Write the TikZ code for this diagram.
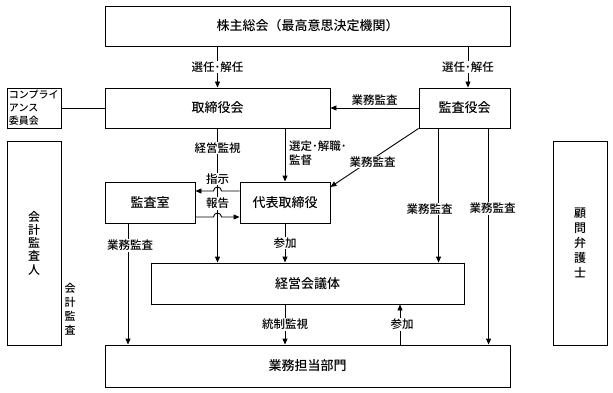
\documentclass[tikz,border=0pt]{standalone}
\usepackage{fontspec}
\setmainfont{Noto Sans CJK JP Medium}
\usetikzlibrary{arrows.meta}
\begin{document}
\begin{tikzpicture}[x=1pt,y=-1pt,
  box/.style={draw,line width=0.9pt,inner sep=0pt,font=\fontsize{13}{15}\selectfont},
  lbl/.style={fill=white,inner sep=1pt,font=\fontsize{11.5}{14}\selectfont},
  ln/.style={line width=0.9pt},
  arr/.style={line width=0.9pt,-{Triangle[length=6pt,width=5pt]}}]
\useasboundingbox (0,0) rectangle (613,393);
% boxes
\node[box,minimum width=405pt,minimum height=40pt] (top) at (307.5,26) {株主総会（最高意思決定機関）};
\node[box,minimum width=54pt,minimum height=40pt,align=left,text width=50pt,font=\fontsize{10}{13}\selectfont] (comp) at (34,108) {コンプライ\\アンス\\委員会};
\node[box,minimum width=225pt,minimum height=40pt] (board) at (217.5,108) {取締役会};
\node[box,minimum width=91pt,minimum height=40pt] (kansa) at (464.5,108) {監査役会};
\node[box,minimum width=54pt,minimum height=204pt,align=center,font=\fontsize{12}{13.3}\selectfont] (kaikei) at (34,243) {会\\計\\監\\査\\人};
\node[box,minimum width=54pt,minimum height=204pt,align=center,font=\fontsize{12}{15}\selectfont] (komon) at (580,243) {顧\\問\\弁\\護\\士};
\node[box,minimum width=90pt,minimum height=41pt] (room) at (150,202.5) {監査室};
\node[box,minimum width=90pt,minimum height=41pt] (ceo) at (285,202.5) {代表取締役};
\node[box,minimum width=313pt,minimum height=41pt] (mgmt) at (307.5,283.5) {経営会議体};
\node[box,minimum width=405pt,minimum height=42pt] (ops) at (307.5,366) {業務担当部門};
\node[align=center,inner sep=0pt,font=\fontsize{11}{14}\selectfont] (kaikeilbl) at (70,309) {会\\計\\監\\査};
% top arrows
\draw[arr] (board.north |- top.south) -- (board.north) node[lbl,midway] {選任･解任};
\coordinate (kn) at ([xshift=3.5pt]kansa.north);
\draw[arr] (kn |- top.south) -- (kn) node[lbl,midway] {選任･解任};
\draw[ln] (comp.east) -- (board.west);
\draw[arr] (kansa.west) -- (board.east) node[midway,above,inner sep=2pt,font=\fontsize{11.5}{14}\selectfont] {業務監査};
% board down
\draw[arr] (board.south) -- (board.south |- mgmt.north);
\node[lbl] (keiei) at (217.5,148) {経営監視};
\node[lbl] (shiji) at (217.5,179) {指示};
\node[lbl] (hokoku) at (217.5,203.5) {報告};
\draw[arr] (ceo.north |- board.south) -- (ceo.north);
\node[anchor=north west,align=left,inner sep=0pt,font=\fontsize{11.5}{14}\selectfont] (sentei) at (289,141) {選定･解職･\\監督};
% hops
\coordinate (s1) at ([yshift=11.5pt]ceo.west);
\coordinate (h1) at (board.south |- s1);
\draw[arr] (s1) -- ([xshift=4pt]h1) arc[start angle=0,end angle=180,radius=4pt] -- (room.east |- s1);
\coordinate (s2) at ([yshift=-14.5pt]room.east);
\coordinate (h2) at (board.south |- s2);
\draw[arr] (s2) -- ([xshift=-4pt]h2) arc[start angle=180,end angle=0,radius=4pt] -- (ceo.west |- s2);
% kansa audits
\draw[arr] (kansa.south west) -- ([yshift=15.5pt]ceo.east) node[lbl,pos=0.52,yshift=-3pt] {業務監査};
\coordinate (k1) at ([xshift=20pt]kansa.south west);
\draw[arr] (k1) -- (k1 |- mgmt.north) node[lbl,pos=0.6,xshift=-9pt] {業務監査};
\coordinate (k2) at ([xshift=70pt]kansa.south west);
\draw[arr] (k2) -- (k2 |- ops.north) node[lbl,pos=0.37,xshift=4pt] {業務監査};
% room down
\coordinate (r1) at ([xshift=-22pt]room.south);
\draw[arr] (r1) -- (r1 |- ops.north) node[lbl,pos=0.18,xshift=2pt] {業務監査};
% ceo down
\draw[arr] (ceo.south) -- (ceo.south |- mgmt.north) node[lbl,midway] {参加};
% mgmt to ops
\coordinate (m1) at (ceo.south |- mgmt.south);
\draw[arr] (m1) -- (m1 |- ops.north) node[lbl,midway] {統制監視};
\coordinate (o1) at ([xshift=92.5pt]ops.north);
\draw[arr] (o1) -- (o1 |- mgmt.south) node[lbl,midway,xshift=2pt] {参加};
\end{tikzpicture}
\end{document}
